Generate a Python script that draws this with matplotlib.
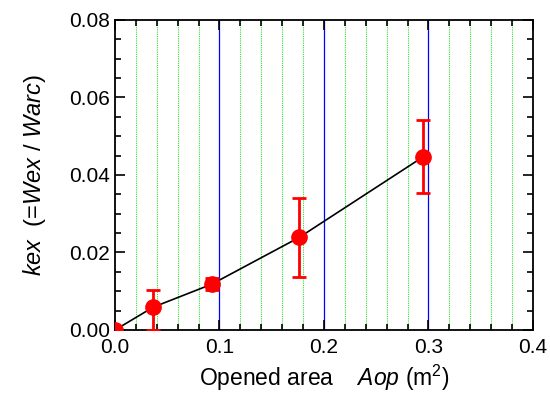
import numpy as np
import matplotlib
matplotlib.use("Agg")
import matplotlib.pyplot as plt
from matplotlib.ticker import MultipleLocator

plt.rcParams['font.family'] = ['Liberation Sans', 'DejaVu Sans']
plt.rcParams['mathtext.fontset'] = 'custom'
plt.rcParams['mathtext.rm'] = 'Liberation Sans'
plt.rcParams['mathtext.it'] = 'Liberation Sans:italic'

# opened area (m^2) vs k_ex
area = [0.0, 0.0367, 0.0925, 0.1764, 0.295]
kex = [0.0, 0.0059, 0.0118, 0.0239, 0.0447]
err_lo = [0.0, 0.0059, 0.0015, 0.0101, 0.0094]
err_hi = [0.0, 0.0044, 0.0017, 0.0101, 0.0095]

fig = plt.figure(figsize=(5.5, 3.96), dpi=100)
ax = fig.add_axes([0.209, 0.1667, 0.76, 0.7828])

# grid lines
for x in np.arange(0.02, 0.4, 0.02):
    if abs(x * 10 - round(x * 10)) < 1e-6:
        ax.axvline(x, color='blue', lw=0.9, zorder=0)
    else:
        ax.axvline(x, color='#33dd33', lw=0.8, ls=(0, (1, 1)), zorder=0)

ax.plot(area, kex, color='black', lw=1.2, zorder=2)
ax.errorbar(area, kex, yerr=[err_lo, err_hi], fmt='o', color='red',
            markersize=11, capsize=5, elinewidth=2, capthick=2, zorder=3)

ax.set_xlim(0, 0.4)
ax.set_ylim(0, 0.08)
ax.xaxis.set_major_locator(MultipleLocator(0.1))
ax.xaxis.set_minor_locator(MultipleLocator(0.02))
ax.yaxis.set_major_locator(MultipleLocator(0.02))
ax.yaxis.set_minor_locator(MultipleLocator(0.005))
ax.xaxis.set_major_formatter(plt.FormatStrFormatter('%.1f'))
ax.yaxis.set_major_formatter(plt.FormatStrFormatter('%.2f'))
ax.tick_params(which='both', direction='in', top=True, right=True, labelsize=15, width=1.2)
ax.tick_params(which='major', length=7)
ax.tick_params(which='minor', length=4)
ax.tick_params(axis='x', pad=6)
for s in ax.spines.values():
    s.set_linewidth(1.3)

ax.set_xlabel(r'Opened area    $\mathit{Aop}$ (m$^2$)', fontsize=16.5, labelpad=4)
ax.set_ylabel(r'$\mathit{k}$$\mathit{ex}$  (=$\mathit{Wex}$ / $\mathit{Warc}$)', fontsize=17, labelpad=15)

fig.savefig('out.png', dpi=100)
